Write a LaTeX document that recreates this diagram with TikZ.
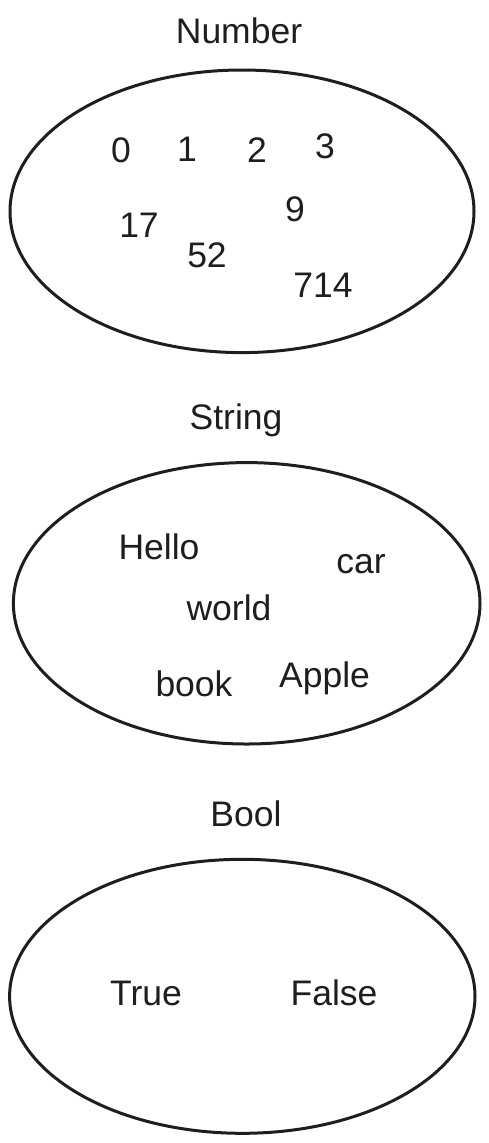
\documentclass[tikz,border=0pt]{standalone}
\usepackage{fontspec}
\setmainfont{Liberation Sans}
\definecolor{ink}{RGB}{30,30,30}
\begin{document}
\begin{tikzpicture}[x=1pt,y=-1pt,
  setshape/.style={draw=ink,line width=3pt},
  lbl/.style={inner sep=0pt,anchor=base,text=ink,font=\fontsize{35.5}{40}\selectfont}]
\useasboundingbox (0,0) rectangle (488,1143);
% ellipses
\draw[setshape] (242,211.3) ellipse [x radius=232, y radius=141.3];
\draw[setshape] (246.7,603.3) ellipse [x radius=233.3, y radius=140.7];
\draw[setshape] (242.3,996.3) ellipse [x radius=232.7, y radius=137];
% Number
\node[lbl] (tnum) at (239,43) {Number};
\node[lbl] (n0) at (121,162) {0};
\node[lbl] (n1) at (187,161) {1};
\node[lbl] (n2) at (257,162) {2};
\node[lbl] (n3) at (325,158.5) {3};
\node[lbl] (n17) at (139,237) {17};
\node[lbl] (n9) at (295,221) {9};
\node[lbl] (n52) at (207,267.5) {52};
\node[lbl] (n714) at (323,297.5) {714};
% String
\node[lbl] (tstr) at (236,429.5) {String};
\node[lbl] (shello) at (159,559.5) {Hello};
\node[lbl] (scar) at (361,573.5) {car};
\node[lbl] (sworld) at (229,620) {world};
\node[lbl] (sbook) at (194,696) {book};
\node[lbl] (sapple) at (324.5,687) {Apple};
% Bool
\node[lbl] (tbool) at (246,826) {Bool};
\node[lbl] (btrue) at (146,1005.5) {True};
\node[lbl] (bfalse) at (334,1005.5) {False};
\end{tikzpicture}
\end{document}
